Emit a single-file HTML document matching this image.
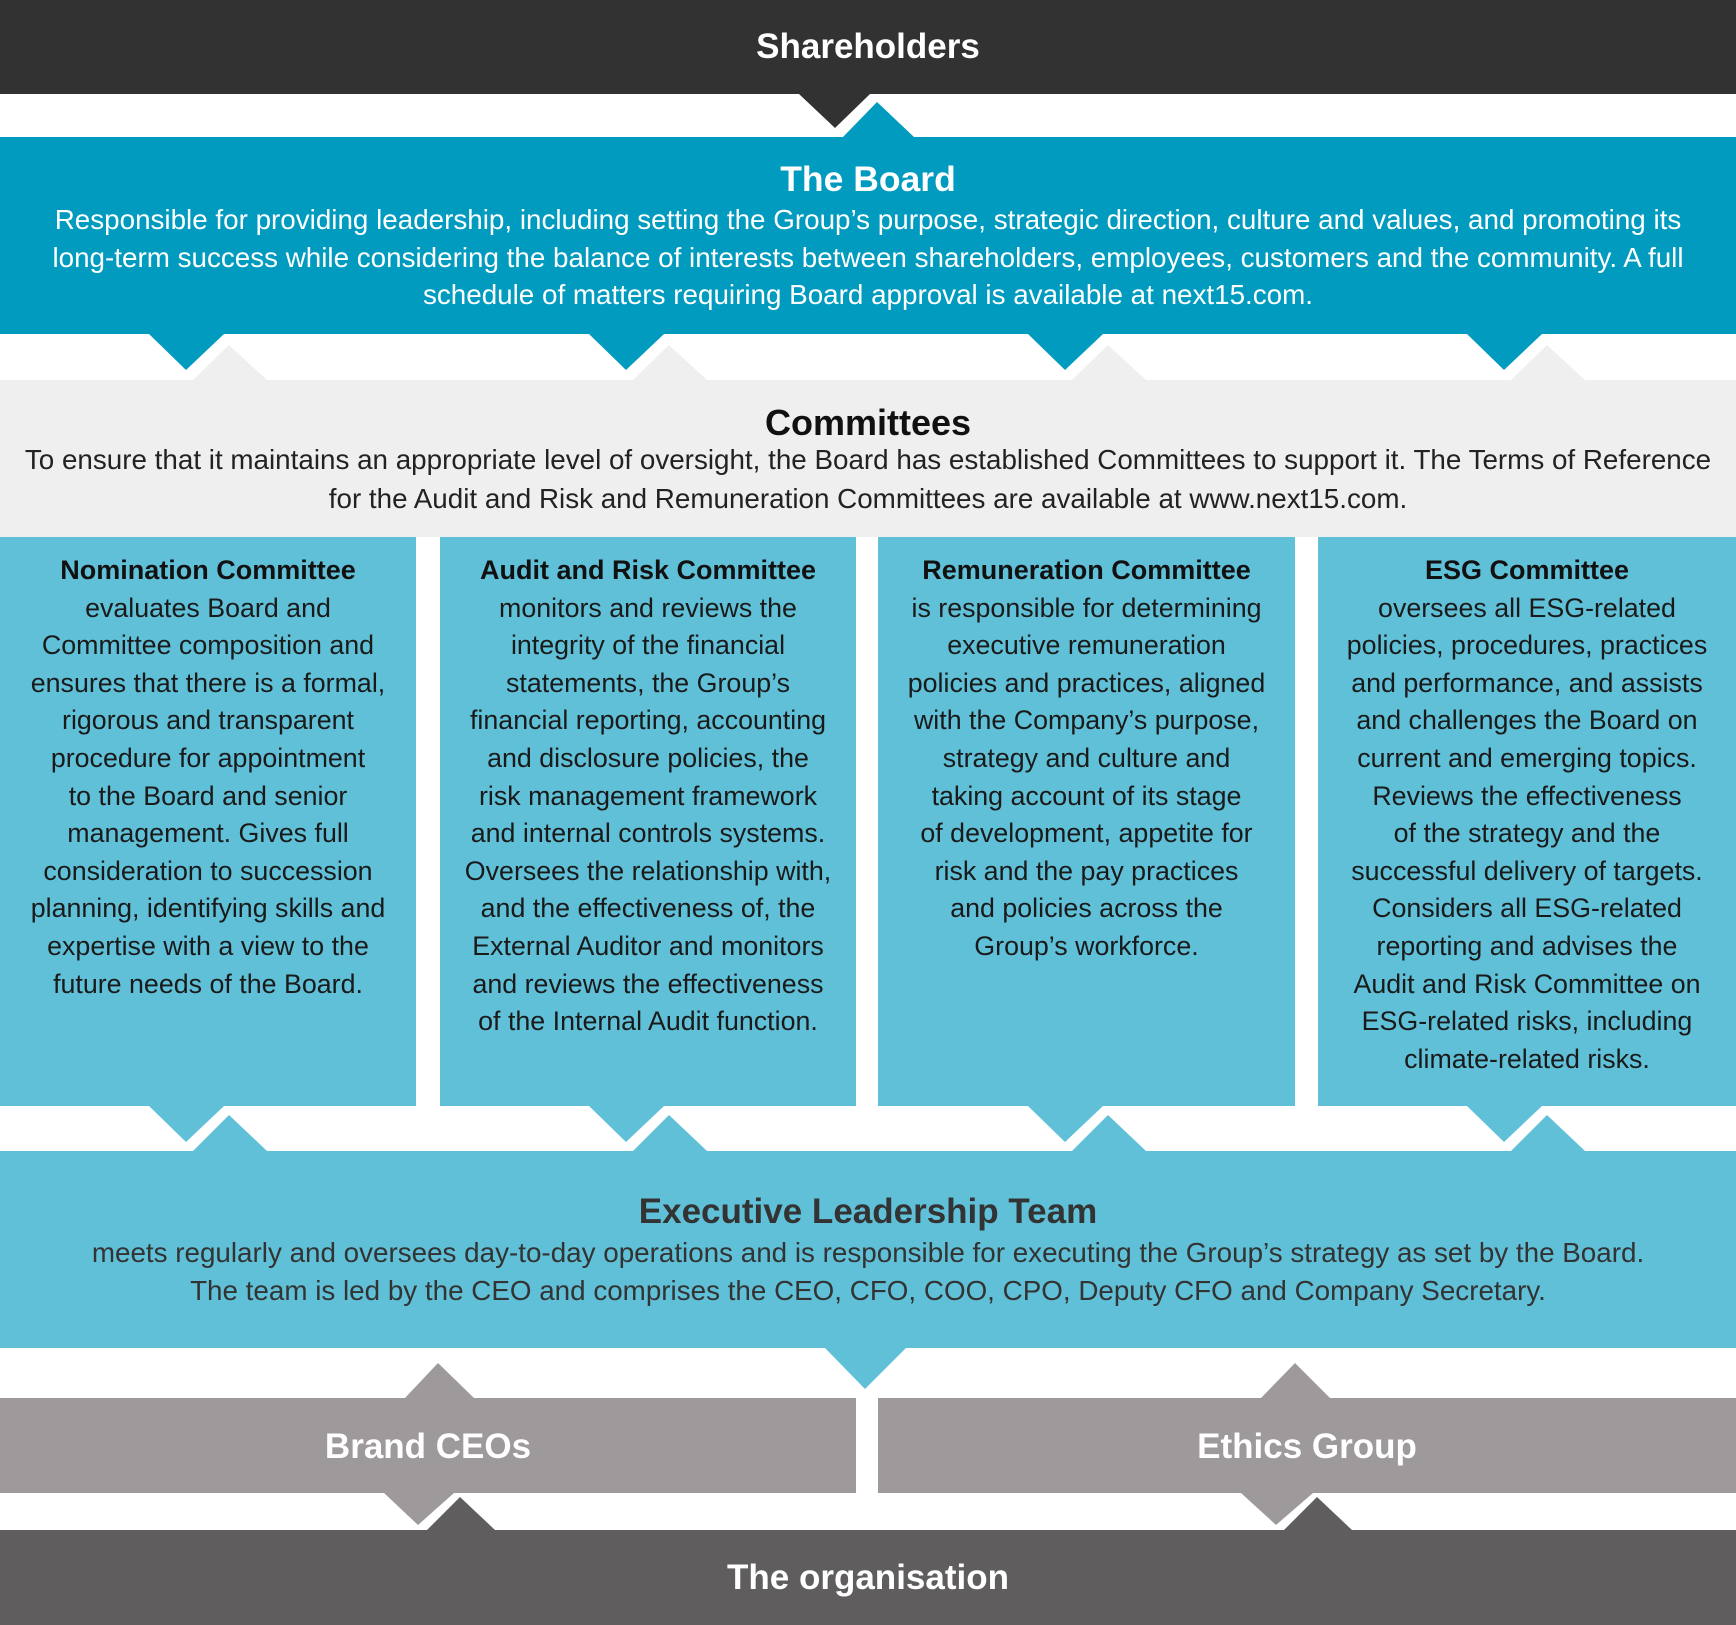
<!DOCTYPE html>
<html><head><meta charset="utf-8"><style>
body{margin:0;width:1736px;height:1625px;position:relative;overflow:hidden;background:#fff;font-family:"Liberation Sans",sans-serif}
.r{position:absolute}
.t{position:absolute;left:0;width:1736px;text-align:center;white-space:nowrap}
.h{font-weight:bold}
.col{position:absolute;top:537px;height:569px;background:#5fc0d8;text-align:center;white-space:nowrap;color:#1a1a1a;font-size:26.8px;line-height:37.6px}
.col b{display:block;margin-top:15px;font-size:27px;color:#111}
</style></head><body>
<div class="r" style="left:0;top:0;width:1736px;height:94px;background:#323232"></div>
<div class="r" style="left:0;top:137px;width:1736px;height:197px;background:#009bbf"></div>
<div class="r" style="left:0;top:380px;width:1736px;height:157px;background:#efefef"></div>
<div class="col" style="left:0;width:416px"><b>Nomination Committee</b>evaluates Board and<br>Committee composition and<br>ensures that there is a formal,<br>rigorous and transparent<br>procedure for appointment<br>to the Board and senior<br>management. Gives full<br>consideration to succession<br>planning, identifying skills and<br>expertise with a view to the<br>future needs of the Board.</div>
<div class="col" style="left:440px;width:416px"><b>Audit and Risk Committee</b>monitors and reviews the<br>integrity of the financial<br>statements, the Group’s<br>financial reporting, accounting<br>and disclosure policies, the<br>risk management framework<br>and internal controls systems.<br>Oversees the relationship with,<br>and the effectiveness of, the<br>External Auditor and monitors<br>and reviews the effectiveness<br>of the Internal Audit function.</div>
<div class="col" style="left:878px;width:417px"><b>Remuneration Committee</b>is responsible for determining<br>executive remuneration<br>policies and practices, aligned<br>with the Company’s purpose,<br>strategy and culture and<br>taking account of its stage<br>of development, appetite for<br>risk and the pay practices<br>and policies across the<br>Group’s workforce.</div>
<div class="col" style="left:1318px;width:418px"><b>ESG Committee</b>oversees all ESG-related<br>policies, procedures, practices<br>and performance, and assists<br>and challenges the Board on<br>current and emerging topics.<br>Reviews the effectiveness<br>of the strategy and the<br>successful delivery of targets.<br>Considers all ESG-related<br>reporting and advises the<br>Audit and Risk Committee on<br>ESG-related risks, including<br>climate-related risks.</div>
<div class="r" style="left:0;top:1151px;width:1736px;height:197px;background:#5fc0d8"></div>
<div class="r" style="left:0;top:1398px;width:856px;height:95px;background:#9e9a9b"></div>
<div class="r" style="left:878px;top:1398px;width:858px;height:95px;background:#9e9a9b"></div>
<div class="r" style="left:0;top:1530px;width:1736px;height:95px;background:#5f5d5e"></div>
<svg class="r" style="left:0;top:0" width="1736" height="1625">
<polygon points="799,94 870,94 835,128" fill="#323232"/>
<polygon points="843,137 914,137 877,102" fill="#009bbf"/>
<g id="a">
<polygon points="149,334 224,334 186,370" fill="#009bbf"/>
<polygon points="193,380 267,380 229,345" fill="#efefef"/>
<polygon points="149,1106 224,1106 186,1142" fill="#5fc0d8"/>
<polygon points="193,1151 267,1151 229,1115" fill="#5fc0d8"/>
</g>
<use href="#a" x="440"/><use href="#a" x="879"/><use href="#a" x="1318"/>
<polygon points="825,1348 906,1348 865,1389" fill="#5fc0d8"/>
<polygon points="405,1398 474,1398 438,1363" fill="#9e9a9b"/>
<polygon points="1261,1398 1330,1398 1295,1363" fill="#9e9a9b"/>
<polygon points="384,1493 454,1493 418,1525" fill="#9e9a9b"/>
<polygon points="427,1530 495,1530 460,1497" fill="#5f5d5e"/>
<polygon points="1241,1493 1313,1493 1276,1525" fill="#9e9a9b"/>
<polygon points="1284,1530 1352,1530 1317,1497" fill="#5f5d5e"/>
</svg>
<div class="t h" style="top:27px;font-size:35px;color:#fff">Shareholders</div>
<div class="t h" style="top:159px;font-size:35.5px;color:#fff">The Board</div>
<div class="t" style="top:201px;font-size:27.8px;line-height:37.6px;color:#fff">Responsible for providing leadership, including setting the Group’s purpose, strategic direction, culture and values, and promoting its<br>long-term success while considering the balance of interests between shareholders, employees, customers and the community. A full<br>schedule of matters requiring Board approval is available at next15.com.</div>
<div class="t h" style="top:402px;font-size:36px;color:#111">Committees</div>
<div class="t" style="top:441px;font-size:27.8px;line-height:38.5px;color:#222">To ensure that it maintains an appropriate level of oversight, the Board has established Committees to support it. The Terms of Reference<br>for the Audit and Risk and Remuneration Committees are available at www.next15.com.</div>
<div class="t h" style="top:1192px;font-size:35px;color:#333">Executive Leadership Team</div>
<div class="t" style="top:1234px;font-size:27.8px;line-height:37.6px;color:#333">meets regularly and oversees day-to-day operations and is responsible for executing the Group’s strategy as set by the Board.<br>The team is led by the CEO and comprises the CEO, CFO, COO, CPO, Deputy CFO and Company Secretary.</div>
<div class="t h" style="top:1427px;left:0;width:856px;font-size:35px;color:#fff">Brand CEOs</div>
<div class="t h" style="top:1427px;left:878px;width:858px;font-size:35px;color:#fff">Ethics Group</div>
<div class="t h" style="top:1558px;font-size:35px;color:#fff">The organisation</div>
</body></html>
